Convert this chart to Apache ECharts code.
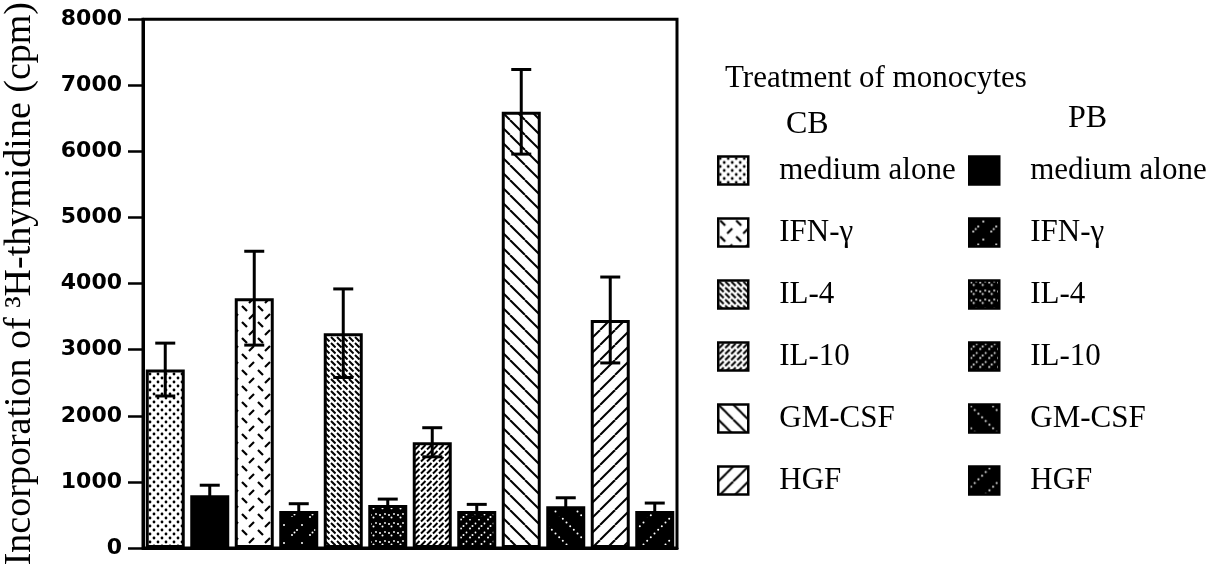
<!DOCTYPE html>
<html>
<head>
<meta charset="utf-8">
<script src="https://cdn.jsdelivr.net/npm/echarts@6/dist/echarts.min.js"></script>
<style>
html,body{margin:0;padding:0;background:#fff;}
#chart{width:1220px;height:569px;}
</style>
</head>
<body>
<div id="chart"></div>
<script>
// ---- data ----
var categories = ['CB medium alone','PB medium alone','CB IFN-γ','PB IFN-γ','CB IL-4','PB IL-4',
                  'CB IL-10','PB IL-10','CB GM-CSF','PB GM-CSF','CB HGF','PB HGF'];
var means  = [2700, 800, 3780, 560, 3250, 650, 1600, 560, 6600, 630, 3450, 560];
var errors = [400, 150, 710, 110, 670, 90, 220, 100, 640, 130, 650, 120];
var cbNames = ['CB medium alone','CB IFN-γ','CB IL-4','CB IL-10','CB GM-CSF','CB HGF'];
var pbNames = ['PB medium alone','PB IFN-γ','PB IL-4','PB IL-10','PB GM-CSF','PB HGF'];
var yTicks = [0,1000,2000,3000,4000,5000,6000,7000,8000];
var yTitle = 'Incorporation of ³H-thymidine (cpm)';
var legendHeader = 'Treatment of monocytes';
var groupHeaders = ['CB','PB'];

// ---- fill patterns ----
function tile(size, bg, fg, draw){
  var c = document.createElement('canvas');
  c.width = size; c.height = size;
  var g = c.getContext('2d');
  g.fillStyle = bg; g.fillRect(0,0,size,size);
  g.fillStyle = fg; g.strokeStyle = fg;
  draw(g, size);
  return {image: c, repeat: 'repeat'};
}
function dot(g,x,y,r){ g.beginPath(); g.arc(x,y,r,0,Math.PI*2); g.fill(); }
function seg(g,x1,y1,x2,y2,w){ g.lineWidth=w; g.beginPath(); g.moveTo(x1,y1); g.lineTo(x2,y2); g.stroke(); }
function diagLines(g,s,dir,w){
  for (var k=-1;k<=1;k++){
    if (dir>0) seg(g,k*s,0,k*s+s,s,w); else seg(g,k*s,s,k*s+s,0,w);
  }
}
function diagDots(g,s,dir,n,r){
  for (var k=-1;k<=1;k++) for (var i=0;i<n;i++){
    var t=(i+0.5)/n*s;
    if (dir>0) dot(g,k*s+t,t,r); else dot(g,k*s+t,s-t,r);
  }
}
var W='#ffffff', B='#000000';
var patterns = [
  tile(8,W,B,function(g){ dot(g,2,2,1.4); dot(g,6,6,1.4); }),
  B,
  tile(16,W,B,function(g){ seg(g,2,2,7,7,2.2); seg(g,9,15,14,10,2.2); }),
  tile(18,B,W,function(g){ dot(g,4,13,1); dot(g,6.5,10.5,1); dot(g,9,8,1); dot(g,14,3,1); }),
  tile(12,W,B,function(g){ seg(g,1,1,5.5,5.5,2); seg(g,7,1,11.5,5.5,2); seg(g,1,7,5.5,11.5,2); seg(g,7,7,11.5,11.5,2); }),
  tile(9,B,W,function(g){ dot(g,2,2,1); dot(g,4.5,4.5,1); dot(g,7,1,0.9); }),
  tile(12,W,B,function(g){ seg(g,1,5.5,5.5,1,2); seg(g,7,5.5,11.5,1,2); seg(g,1,11.5,5.5,7,2); seg(g,7,11.5,11.5,7,2); }),
  tile(9,B,W,function(g){ dot(g,2,6.5,1); dot(g,4.5,4,1); dot(g,7.5,1.5,0.9); }),
  tile(15,W,B,function(g,s){ diagLines(g,s,1,2); }),
  tile(22,B,W,function(g,s){ diagDots(g,s,1,6,1); }),
  tile(15,W,B,function(g,s){ diagLines(g,s,-1,2); }),
  tile(22,B,W,function(g,s){ diagDots(g,s,-1,6,1); })
];

// ---- series ----
var series = categories.map(function(name,i){
  return {
    name: name,
    type: 'bar',
    barGap: '-100%',
    barWidth: 39,
    data: means.map(function(v,j){ return j===i ? v : '-'; }),
    itemStyle: {color: patterns[i], borderColor:'#000', borderWidth:3},
    emphasis: {disabled: true},
    animation: false
  };
});
series.push({
  name: 'error',
  type: 'custom',
  z: 10,
  animation: false,
  encode: {x: 0, y: 1},
  data: means.map(function(m,i){ return [i, m, errors[i]]; }),
  renderItem: function(params, api){
    var i = api.value(0), m = api.value(1), e = api.value(2);
    var top = api.coord([i, m+e]);
    var bot = api.coord([i, m-e]);
    var hw = 10;
    var st = {stroke:'#000', lineWidth:3};
    return {type:'group', children:[
      {type:'line', shape:{x1:top[0],y1:top[1],x2:bot[0],y2:bot[1]}, style:st},
      {type:'line', shape:{x1:top[0]-hw,y1:top[1],x2:top[0]+hw,y2:top[1]}, style:st},
      {type:'line', shape:{x1:bot[0]-hw,y1:bot[1],x2:bot[0]+hw,y2:bot[1]}, style:st}
    ]};
  }
});

var serif = '"Liberation Serif", "Times New Roman", serif';
function legendCfg(names, left){
  return {
    data: names,
    orient: 'vertical',
    left: left,
    top: 155,
    padding: 0,
    icon: 'rect',
    itemWidth: 30,
    itemHeight: 28,
    itemGap: 31,
    selectedMode: false,
    itemStyle: {borderColor:'#000', borderWidth:2.5},
    formatter: function(n){ return n.replace(/^(CB|PB) /,''); },
    textStyle: {fontFamily: serif, fontSize: 31, color:'#000', padding:[0,0,0,26]}
  };
}

var chart = echarts.init(document.getElementById('chart'), null, {renderer:'canvas'});
chart.setOption({
  backgroundColor: '#fff',
  animation: false,
  title: [
    {text: legendHeader, left: 725, top: 63, padding:0, textStyle:{fontFamily:serif,fontSize:31,fontWeight:'normal',color:'#000'}},
    {text: groupHeaders[0], left: 786, top: 109, padding:0, textStyle:{fontFamily:serif,fontSize:32,fontWeight:'normal',color:'#000'}},
    {text: groupHeaders[1], left: 1068, top: 103, padding:0, textStyle:{fontFamily:serif,fontSize:32,fontWeight:'normal',color:'#000'}}
  ],
  legend: [legendCfg(cbNames, 717), legendCfg(pbNames, 968)],
  grid: {left: 143, right: 543, top: 17, bottom: 21, show: true, borderColor:'#000', borderWidth:3, backgroundColor:'transparent'},
  xAxis: {
    type: 'category',
    data: categories,
    axisLine: {show:true, lineStyle:{color:'#000', width:3}},
    axisTick: {show:false},
    axisLabel: {show:false},
    splitLine: {show:false}
  },
  yAxis: {
    type: 'value',
    min: yTicks[0],
    max: yTicks[yTicks.length-1],
    interval: 1000,
    name: yTitle,
    nameLocation: 'middle',
    nameGap: 104,
    nameTextStyle: {fontFamily: serif, fontSize: 38, color:'#000'},
    axisLine: {show:true, lineStyle:{color:'#000', width:3}},
    axisTick: {show:true, inside:false, length:15, lineStyle:{color:'#000', width:2.5}},
    axisLabel: {margin: 21, fontFamily:'"DejaVu Sans", sans-serif', fontWeight:'bold', fontSize:22, color:'#000',
                formatter: function(v){ return String(v); }},
    splitLine: {show:false}
  },
  series: series
});
</script>
</body>
</html>
